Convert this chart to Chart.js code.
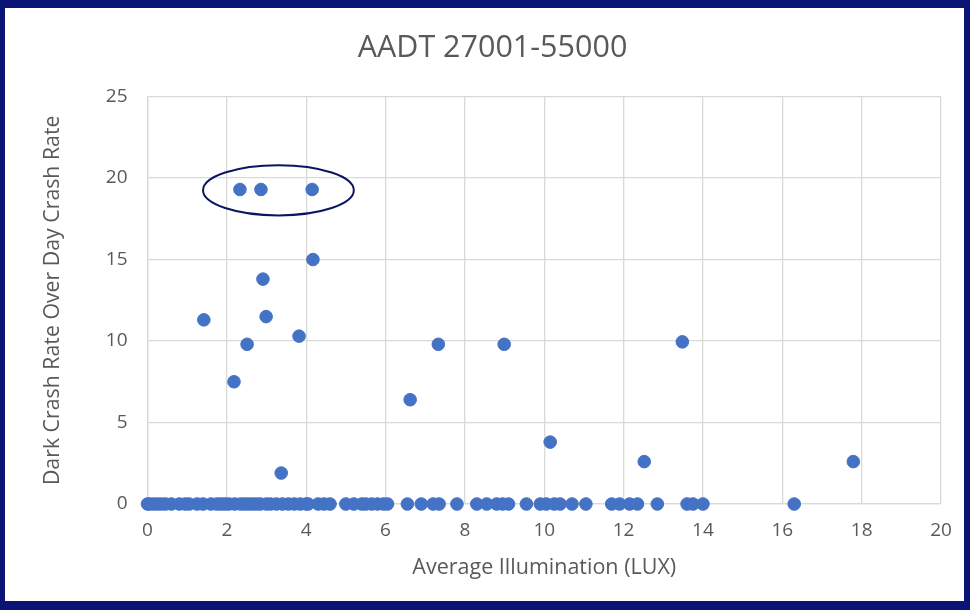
<!DOCTYPE html>
<html>
<head>
<meta charset="utf-8">
<script src="https://cdn.jsdelivr.net/npm/chart.js@4"></script>
<style>
  html, body { margin: 0; padding: 0; }
  body { width: 970px; height: 610px; background: #0a1474; position: relative; overflow: hidden; }
  #frame { position: absolute; left: 5px; top: 8px; width: 959px; height: 593px; background: #ffffff; }
</style>
</head>
<body>
<div id="frame"><canvas id="scatter" width="959" height="593"></canvas></div>
<script>
const chartTitle = 'AADT 27001-55000'
const xTitle = 'Average Illumination (LUX)'
const yTitle = 'Dark Crash Rate Over Day Crash Rate'

// average illumination of each segment (LUX)
const lux = [
    2.33, 2.86, 4.15, 4.17, 1.42, 2.91, 2.99, 2.51, 3.82, 2.18, 3.37,
    6.62, 7.33, 8.99, 10.15, 12.52, 13.48, 17.79,
    0, 0.05, 0.15, 0.25, 0.35, 0.45, 0.6, 0.8, 0.95, 1.05, 1.25, 1.4,
    1.6, 1.75, 1.85, 1.95, 2.05, 2.2, 2.35, 2.45, 2.55, 2.65, 2.75, 2.85,
    3.0, 3.1, 3.25, 3.4, 3.55, 3.7, 3.85, 4.0, 4.05, 4.3, 4.45, 4.6,
    5.0, 5.2, 5.4, 5.5, 5.65, 5.8, 5.95, 6.05,
    6.55, 6.9, 7.2, 7.35, 7.8,
    8.3, 8.55, 8.8, 8.95, 9.1,
    9.55, 9.9, 10.05, 10.25, 10.4, 10.7, 11.05,
    11.7, 11.9, 12.15, 12.35, 12.85,
    13.6, 13.75, 14.0, 16.3
]
// dark crash rate / day crash rate for the same segments
const crashRatio = [
    19.3, 19.3, 19.3, 15.0, 11.3, 13.8, 11.5, 9.8, 10.3, 7.5, 1.9,
    6.4, 9.8, 9.8, 3.8, 2.6, 9.95, 2.6,
    0, 0, 0, 0, 0, 0, 0, 0, 0, 0, 0, 0,
    0, 0, 0, 0, 0, 0, 0, 0, 0, 0, 0, 0,
    0, 0, 0, 0, 0, 0, 0, 0, 0, 0, 0, 0,
    0, 0, 0, 0, 0, 0, 0, 0,
    0, 0, 0, 0, 0,
    0, 0, 0, 0, 0,
    0, 0, 0, 0, 0, 0, 0,
    0, 0, 0, 0, 0,
    0, 0, 0, 0
]

const xTicks = [0, 2, 4, 6, 8, 10, 12, 14, 16, 18, 20]
const yTicks = [0, 5, 10, 15, 20, 25]

// ring drawn round the three highest points (data units)
const ring = { x: 3.3, y: 19.25, rx: 1.9, ry: 1.54 }

const points = lux.map((v, i) => ({ x: v, y: crashRatio[i] }))

const ringPlugin = {
    id: 'ring',
    afterDatasetsDraw(chart) {
        const xs = chart.scales.x
        const ys = chart.scales.y
        const cx = xs.getPixelForValue(ring.x)
        const cy = ys.getPixelForValue(ring.y)
        const rx = Math.abs(xs.getPixelForValue(ring.x + ring.rx) - cx)
        const ry = Math.abs(ys.getPixelForValue(ring.y + ring.ry) - cy)
        const c = chart.ctx
        c.save()
        c.beginPath()
        c.ellipse(cx, cy, rx, ry, 0, 0, Math.PI * 2)
        c.strokeStyle = '#0b1560'
        c.lineWidth = 2
        c.stroke()
        c.restore()
    }
}

const textColor = '#595959'
const gridColor = '#d9d9d9'

const config = {
    type: 'scatter',
    data: {
        datasets: [{
            data: points,
            backgroundColor: '#4472C4',
            borderColor: '#4472C4',
            borderWidth: 1,
            pointRadius: 6.3,
            clip: false
        }]
    },
    options: {
        responsive: false,
        animation: false,
        layout: {
            padding: { left: 39, right: 23, top: 0, bottom: 0 }
        },
        plugins: {
            legend: { display: false },
            tooltip: { enabled: false },
            title: {
                display: true,
                text: chartTitle,
                color: textColor,
                font: { family: 'Open Sans', size: 30.5, weight: 'normal', lineHeight: 1.2 },
                padding: { top: 22, bottom: 30 }
            }
        },
        scales: {
            x: {
                type: 'linear',
                min: 0,
                max: 20,
                afterBuildTicks: (axis) => { axis.ticks = xTicks.map(v => ({ value: v })) },
                afterFit: (axis) => {
                    axis.height = 97
                    axis.paddingLeft = 0
                    axis.paddingRight = 0
                },
                grid: { color: gridColor, lineWidth: 1.3, drawTicks: false },
                border: { color: gridColor, width: 1.3 },
                ticks: {
                    color: textColor,
                    padding: 15,
                    font: { family: 'Open Sans', size: 19 }
                },
                title: {
                    display: true,
                    text: xTitle,
                    color: textColor,
                    font: { family: 'Open Sans', size: 21.5, lineHeight: 1.2 },
                    padding: { top: 0, bottom: 20 }
                }
            },
            y: {
                type: 'linear',
                min: 0,
                max: 25,
                afterBuildTicks: (axis) => { axis.ticks = yTicks.map(v => ({ value: v })) },
                afterFit: (axis) => { axis.width = 103.5 },
                grid: { color: gridColor, lineWidth: 1.3, drawTicks: false },
                border: { color: gridColor, width: 1.3 },
                ticks: {
                    color: textColor,
                    padding: 20,
                    font: { family: 'Open Sans', size: 19 }
                },
                title: {
                    display: true,
                    text: yTitle,
                    color: textColor,
                    font: { family: 'Open Sans', size: 21.3, lineHeight: 0.85 },
                    padding: { top: 0, bottom: 0 }
                }
            }
        }
    },
    plugins: [ringPlugin]
}

const ctx = document.getElementById('scatter').getContext('2d')
new Chart(ctx, config)
</script>
</body>
</html>
